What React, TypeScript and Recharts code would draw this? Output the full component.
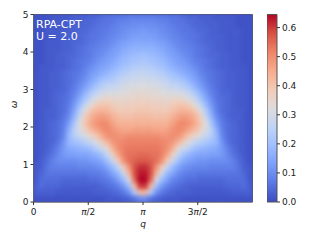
import { ScatterChart, Scatter, XAxis, YAxis, CartesianGrid, ReferenceArea, BarChart, Bar } from "recharts"

const PI = Math.PI
const qTicks = [0, PI / 2, PI, (3 * PI) / 2]
const qTickLabels = ["0", "π/2", "π", "3π/2"]
const omegaTicks = [0, 1, 2, 3, 4, 5]
const colorbarTicks = [0, 0.1, 0.2, 0.3, 0.4, 0.5, 0.6]
const vmax = 0.645

// coolwarm stops
const coolwarm = ["#3b4cc0", "#5a78e4", "#7b9ff9", "#9ebeff", "#c0d4f5", "#dddcdc", "#f2cbb7", "#f7ac8e", "#ee8468", "#d65244", "#b40426"]

// intensity x100, top row is omega = 5, left half only (spectrum is mirrored about q = pi)
const intensityRows = [
  [1, 1, 1, 2, 2, 2, 2, 3, 3, 3, 4, 4, 5, 6, 6, 7, 7, 8, 8, 8],
  [1, 1, 1, 2, 2, 2, 3, 3, 3, 4, 4, 5, 6, 6, 7, 8, 9, 9, 10, 10],
  [1, 1, 2, 2, 2, 2, 3, 3, 4, 4, 5, 6, 6, 7, 8, 9, 10, 11, 11, 12],
  [1, 1, 2, 2, 2, 3, 3, 3, 4, 5, 6, 6, 7, 8, 9, 10, 11, 12, 13, 13],
  [1, 1, 2, 2, 2, 3, 3, 4, 4, 5, 6, 7, 8, 9, 10, 12, 13, 14, 15, 15],
  [1, 1, 2, 2, 2, 3, 3, 4, 5, 6, 7, 8, 9, 10, 12, 13, 15, 16, 17, 17],
  [1, 1, 2, 2, 3, 3, 4, 4, 5, 6, 7, 9, 10, 12, 13, 15, 17, 18, 19, 20],
  [1, 1, 2, 2, 3, 3, 4, 5, 6, 7, 8, 10, 12, 13, 15, 17, 19, 20, 21, 22],
  [1, 2, 2, 2, 3, 3, 4, 5, 6, 8, 10, 12, 14, 15, 17, 19, 21, 22, 24, 24],
  [1, 2, 2, 3, 3, 4, 5, 6, 7, 9, 12, 14, 16, 18, 20, 22, 24, 25, 26, 27],
  [1, 2, 2, 3, 3, 4, 5, 6, 8, 11, 14, 17, 20, 22, 23, 25, 27, 28, 29, 29],
  [1, 2, 2, 3, 3, 4, 5, 7, 10, 13, 17, 21, 24, 26, 27, 28, 30, 31, 31, 32],
  [1, 2, 2, 3, 4, 4, 6, 8, 12, 17, 22, 26, 29, 30, 31, 31, 32, 33, 34, 34],
  [1, 2, 2, 3, 4, 5, 6, 10, 15, 21, 27, 31, 34, 35, 35, 34, 35, 35, 35, 36],
  [1, 2, 2, 3, 4, 5, 7, 12, 19, 27, 33, 38, 40, 40, 38, 37, 37, 37, 38, 38],
  [1, 2, 3, 3, 4, 5, 8, 15, 24, 33, 40, 43, 44, 43, 41, 39, 39, 39, 39, 40],
  [1, 2, 3, 3, 4, 6, 10, 18, 28, 38, 44, 47, 48, 47, 44, 42, 41, 41, 42, 42],
  [1, 2, 3, 4, 5, 7, 13, 22, 32, 40, 46, 49, 51, 50, 47, 44, 44, 44, 44, 44],
  [1, 2, 3, 4, 5, 8, 16, 25, 31, 37, 42, 46, 49, 51, 49, 47, 46, 46, 47, 47],
  [1, 2, 3, 4, 5, 9, 18, 24, 27, 31, 35, 39, 45, 49, 50, 49, 49, 50, 50, 50],
  [1, 2, 3, 4, 6, 11, 18, 20, 22, 24, 27, 31, 37, 43, 48, 50, 51, 52, 52, 52],
  [1, 2, 3, 5, 8, 12, 15, 16, 17, 18, 20, 24, 28, 34, 44, 50, 52, 53, 53, 53],
  [1, 2, 4, 6, 9, 12, 13, 13, 14, 14, 15, 17, 20, 26, 36, 46, 52, 54, 54, 55],
  [1, 3, 5, 8, 10, 10, 10, 10, 11, 11, 12, 13, 15, 20, 27, 38, 49, 54, 56, 57],
  [2, 3, 6, 8, 8, 8, 8, 8, 9, 9, 9, 10, 11, 14, 19, 26, 38, 49, 58, 61],
  [2, 4, 6, 6, 6, 6, 6, 6, 6, 6, 7, 7, 8, 10, 14, 18, 28, 43, 58, 63],
  [2, 5, 5, 5, 5, 4, 4, 4, 4, 4, 5, 5, 6, 7, 9, 13, 19, 31, 55, 65],
  [3, 5, 4, 4, 4, 3, 3, 3, 3, 3, 3, 3, 4, 5, 6, 8, 12, 20, 42, 60],
  [3, 3, 3, 3, 2, 2, 2, 2, 2, 2, 2, 3, 3, 3, 4, 5, 7, 11, 23, 42],
  [1, 1, 1, 1, 1, 1, 1, 1, 1, 1, 1, 1, 1, 2, 2, 2, 3, 4, 6, 10],
]

const plot = { left: 33.5, top: 14.5, width: 219, height: 187.5 }
const nCols = intensityRows[0].length * 2
const nRows = intensityRows.length
const cellW = plot.width / nCols
const cellH = plot.height / nRows

const cells = intensityRows.flatMap((row, r) =>
  [...row, ...[...row].reverse()].map((v, c) => ({
    q: ((c + 0.5) * 2 * PI) / nCols,
    w: 5 - ((r + 0.5) * 5) / nRows,
    v: v / 100,
  }))
)

function hex(c: string) {
  return [1, 3, 5].map((i) => parseInt(c.slice(i, i + 2), 16))
}

function colorOf(v: number) {
  const t = Math.min(v / vmax, 1) * (coolwarm.length - 1)
  const i = Math.min(Math.floor(t), coolwarm.length - 2)
  const a = hex(coolwarm[i])
  const b = hex(coolwarm[i + 1])
  const m = a.map((x, j) => Math.round(x + (b[j] - x) * (t - i)))
  return `rgb(${m[0]},${m[1]},${m[2]})`
}

function Cell(props: any) {
  const { cx, cy, payload } = props
  return <rect x={cx - cellW / 2 - 0.3} y={cy - cellH / 2 - 0.3} width={cellW + 0.6} height={cellH + 0.6} fill={colorOf(payload.v)} />
}

function QTick(props: any) {
  const { x, y, payload } = props
  const label = qTickLabels[qTicks.findIndex((t) => Math.abs(t - payload.value) < 1e-6)] ?? ""
  return (
    <text x={x} y={y + 8} textAnchor="middle" fontSize={9} fill="#222">
      {label.split("").map((ch, i) => (
        <tspan key={i} fontStyle={ch === "π" ? "italic" : "normal"}>{ch}</tspan>
      ))}
    </text>
  )
}

const font = "DejaVu Sans"

export default function App() {
  return (
    <div style={{ position: "absolute", left: 0, top: 0, width: 320, height: 240, fontFamily: font, background: "#fff" }}>
      <style>{`.recharts-scatter { filter: blur(2px); clip-path: url(#plotClip); }`}</style>
      <ScatterChart width={320} height={240} margin={{ top: plot.top, left: 0, right: 320 - plot.left - plot.width, bottom: 0 }}>
        <defs>
          <clipPath id="plotClip" clipPathUnits="userSpaceOnUse">
            <rect x={plot.left} y={plot.top} width={plot.width} height={plot.height} />
          </clipPath>
        </defs>
        <CartesianGrid horizontal={false} vertical={false} fill="#3f50c4" />
        <XAxis
          type="number"
          dataKey="q"
          domain={[0, 2 * PI]}
          ticks={qTicks}
          interval={0}
          height={240 - plot.top - plot.height}
          tick={<QTick />}
          tickSize={3}
          tickLine={{ stroke: "#333" }}
          axisLine={{ stroke: "#666" }}
          label={{ value: "q", position: "insideTop", dy: 14, fontSize: 9, fontStyle: "italic", fill: "#222" }}
        />
        <YAxis
          type="number"
          dataKey="w"
          domain={[0, 5]}
          ticks={omegaTicks}
          interval={0}
          width={plot.left}
          tickSize={3}
          tick={{ fontSize: 9, fill: "#222" }}
          tickLine={{ stroke: "#333" }}
          axisLine={{ stroke: "#666" }}
          label={{ value: "ω", angle: -90, position: "insideLeft", dx: 9, fontSize: 9, fontStyle: "italic", fill: "#222" }}
        />
        <Scatter data={cells} shape={<Cell />} isAnimationActive={false} />
        <ReferenceArea x1={0} x2={2 * PI} y1={0} y2={5} fill="none" stroke="#445" strokeOpacity={0.8} />
      </ScatterChart>
      <svg width={320} height={60} style={{ position: "absolute", left: 0, top: 0, pointerEvents: "none" }}>
        <text x={36} y={28} fontSize={11} fill="#fff">RPA-CPT</text>
        <text x={36} y={40} fontSize={11} fill="#fff">U = 2.0</text>
      </svg>
      <div style={{ position: "absolute", left: 266.5, top: 0 }}>
        <BarChart
          width={50}
          height={240}
          data={[{ name: "c", v: vmax }]}
          margin={{ top: plot.top, left: 0, right: 0, bottom: 240 - plot.top - plot.height }}
          barCategoryGap={0}
        >
          <defs>
            <linearGradient id="cw" x1="0" y1="1" x2="0" y2="0">
              {coolwarm.map((c, i) => (
                <stop key={c} offset={i / (coolwarm.length - 1)} stopColor={c} />
              ))}
            </linearGradient>
          </defs>
          <XAxis dataKey="name" hide />
          <YAxis
            orientation="right"
            type="number"
            domain={[0, vmax]}
            ticks={colorbarTicks}
            interval={0}
            width={40}
            tickSize={3}
            tick={{ fontSize: 9, fill: "#222" }}
            tickFormatter={(v: number) => v.toFixed(1)}
            tickLine={{ stroke: "#333" }}
            axisLine={false}
          />
          <Bar dataKey="v" fill="url(#cw)" stroke="#555" isAnimationActive={false} />
        </BarChart>
      </div>
    </div>
  )
}
